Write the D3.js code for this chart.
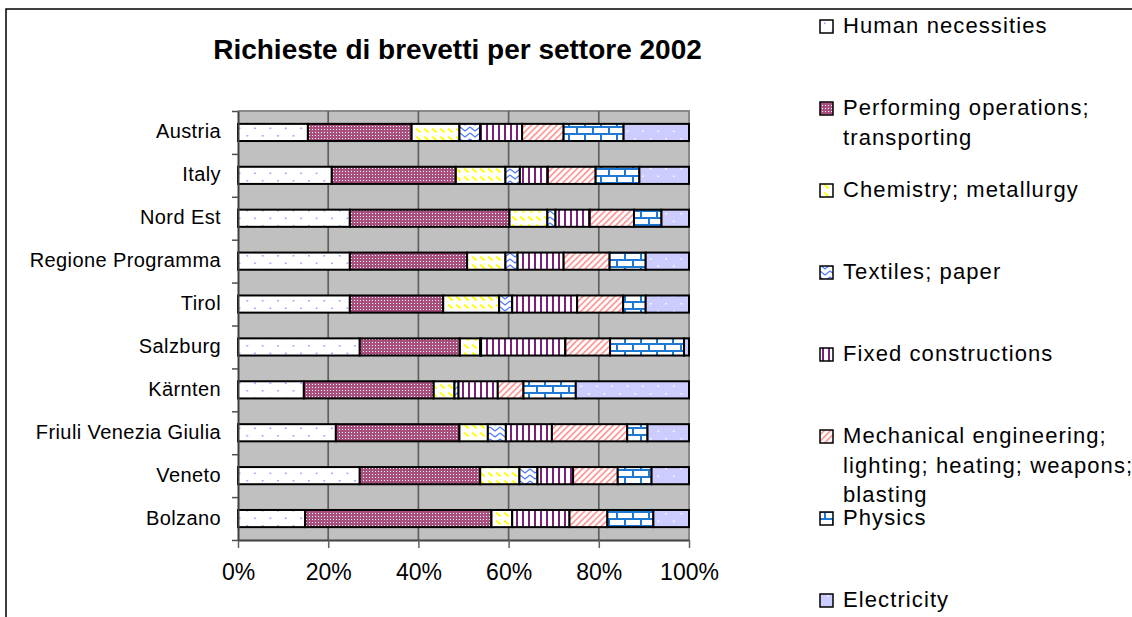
<!DOCTYPE html>
<html><head><meta charset="utf-8">
<script src="https://cdn.jsdelivr.net/npm/d3@7"></script>
<style>
html,body{margin:0;padding:0;background:#fff;overflow:hidden}
text{font-family:"Liberation Sans",Arial,sans-serif}
</style></head><body>
<svg id="c" width="1132" height="617"></svg>
<script>
const title = "Richieste di brevetti per settore 2002";
const categories = ["Austria","Italy","Nord Est","Regione Programma","Tirol","Salzburg","Kärnten","Friuli Venezia Giulia","Veneto","Bolzano"];
const seriesKeys = ["human","performing","chemistry","textiles","fixed","mechanical","physics","electricity"];
const legendLabels = [
  ["Human necessities"],
  ["Performing operations;","transporting"],
  ["Chemistry; metallurgy"],
  ["Textiles; paper"],
  ["Fixed constructions"],
  ["Mechanical engineering;","lighting; heating; weapons;","blasting"],
  ["Physics"],
  ["Electricity"]
];
const humanNecessities     = [15.5, 20.8, 24.8, 24.8, 24.8, 27.0, 14.6, 21.7, 27.0, 14.9];
const performingOperations = [23.0, 27.5, 35.4, 26.0, 20.7, 22.2, 28.8, 27.4, 26.7, 41.3];
const chemistryMetallurgy  = [10.6, 11.0,  8.4,  8.5, 12.4,  4.5,  4.6,  6.3,  8.7,  4.6];
const textilesPaper        = [ 4.6,  3.2,  1.8,  2.7,  2.9,  0.2,  0.9,  4.0,  4.0,  0.0];
const fixedConstructions   = [ 9.3,  6.2,  7.6, 10.2, 14.4, 18.7,  8.7, 10.2,  7.9, 12.7];
const mechanicalEngineering= [ 9.2, 10.6,  9.8, 10.2, 10.2,  9.9,  5.7, 16.7,  9.9,  8.4];
const physicsValues        = [13.3,  9.7,  6.1,  8.0,  5.0, 16.4, 11.6,  4.5,  7.5, 10.2];
const electricityValues    = [14.5, 11.0,  6.1,  9.6,  9.6,  1.1, 25.1,  9.2,  8.3,  7.9];
const xTickValues = [0, 0.2, 0.4, 0.6, 0.8, 1.0];

const seriesArrays = [humanNecessities, performingOperations, chemistryMetallurgy, textilesPaper,
  fixedConstructions, mechanicalEngineering, physicsValues, electricityValues];
const table = categories.map((c, i) => {
  const row = {category: c};
  seriesKeys.forEach((k, j) => row[k] = seriesArrays[j][i]);
  return row;
});

const svg = d3.select("#c");
const defs = svg.append("defs");

function pat(id, w, h, bg, draw, transform) {
  const p = defs.append("pattern").attr("id", id).attr("patternUnits", "userSpaceOnUse")
    .attr("width", w).attr("height", h);
  if (transform) p.attr("patternTransform", transform);
  p.append("rect").attr("width", w).attr("height", h).attr("fill", bg);
  draw(p);
}
// Human necessities: white with blue dots
pat("p0", 15.4, 15, "#fff", p => {
  p.append("rect").attr("x", 0).attr("y", 0).attr("width", 1.6).attr("height", 1.6).attr("fill", "#9999ff");
  p.append("rect").attr("x", 7.7).attr("y", 7.5).attr("width", 1.6).attr("height", 1.6).attr("fill", "#9999ff");
});
// Performing: plum with fine white dots
pat("p1", 3, 3, "#a84f7e", p => {
  p.append("rect").attr("width", 1).attr("height", 1).attr("fill", "#ffffff").attr("shape-rendering", "crispEdges");
});
// Chemistry: yellow "\" dashes
pat("p2", 8, 8, "#fff", p => {
  p.append("line").attr("x1", 0.5).attr("y1", 0.5).attr("x2", 4.5).attr("y2", 4.5)
    .attr("stroke", "#ffff00").attr("stroke-width", 1.8);
});
// Textiles: blue chevrons
pat("p3", 10, 6, "#fff", p => {
  p.append("path").attr("d", "M0,1 L5,5 L10,1").attr("fill", "none")
    .attr("stroke", "#4d79ff").attr("stroke-width", 1.3);
});
// Fixed: purple vertical stripes
pat("p4", 6, 6, "#fff", p => {
  p.append("rect").attr("x", 0).attr("width", 2).attr("height", 6).attr("fill", "#7a1f7a");
});
// Mechanical: pink diagonal "/"
pat("p5", 4.5, 4.5, "#fff", p => {
  p.append("rect").attr("x", 0).attr("width", 1.6).attr("height", 4.5).attr("fill", "#ff9090");
}, "rotate(45)");
// Physics: blue bricks
pat("p6", 16, 14, "#fff", p => {
  const c = "#1f78d1";
  p.append("rect").attr("x", 0).attr("y", 0).attr("width", 16).attr("height", 2).attr("fill", c);
  p.append("rect").attr("x", 0).attr("y", 7).attr("width", 16).attr("height", 2).attr("fill", c);
  p.append("rect").attr("x", 0).attr("y", 0).attr("width", 2).attr("height", 7).attr("fill", c);
  p.append("rect").attr("x", 8).attr("y", 7).attr("width", 2).attr("height", 7).attr("fill", c);
});
// Electricity: lavender with white dots
pat("p7", 15.4, 15, "#ccccff", p => {
  p.append("rect").attr("x", 3).attr("y", 3).attr("width", 1.6).attr("height", 1.6).attr("fill", "#fff");
  p.append("rect").attr("x", 10.7).attr("y", 10.5).attr("width", 1.6).attr("height", 1.6).attr("fill", "#fff");
});

// chart frame (extends beyond the page)
svg.append("rect").attr("x", 6).attr("y", 9).attr("width", 3000).attr("height", 3000)
  .attr("fill", "none").attr("stroke", "#000").attr("stroke-width", 1.5);

const plotLeft = 238, plotRight = 689, plotTop = 111, plotBottom = 540;
const x = d3.scaleLinear().domain([0, 1]).range([plotLeft, plotRight]);
const y = d3.scaleBand().domain(categories).range([plotTop, plotBottom]).paddingInner(0.6).paddingOuter(0.3);

// plot area
svg.append("rect").attr("x", plotLeft).attr("y", plotTop).attr("width", plotRight - plotLeft).attr("height", plotBottom - plotTop)
  .attr("fill", "#c0c0c0");
svg.append("path").attr("d", `M${plotLeft},${plotTop}H${plotRight}V${plotBottom}`).attr("fill", "none")
  .attr("stroke", "#8a8a8a").attr("stroke-width", 2);

// gridlines
svg.append("g").selectAll("line").data(xTickValues.slice(1, -1)).join("line")
  .attr("x1", d => x(d)).attr("x2", d => x(d)).attr("y1", plotTop).attr("y2", plotBottom)
  .attr("stroke", "#606060").attr("stroke-width", 1.7);

// bars
const stacked = d3.stack().keys(seriesKeys).offset(d3.stackOffsetExpand)(table);
svg.append("g").selectAll("g").data(stacked).join("g")
  .attr("fill", (d, i) => `url(#p${i})`)
  .selectAll("rect").data(d => d).join("rect")
  .attr("x", d => x(d[0])).attr("width", d => x(d[1]) - x(d[0]))
  .attr("y", d => y(d.data.category)).attr("height", y.bandwidth())
  .attr("stroke", "#000").attr("stroke-width", 2);

// x axis
const xAxis = svg.append("g").attr("transform", `translate(0,${plotBottom})`)
  .call(d3.axisBottom(x).tickValues(xTickValues).tickFormat(d3.format(".0%")).tickSize(8).tickSizeOuter(0).tickPadding(16));
xAxis.select(".domain").attr("stroke", "#404040").attr("stroke-width", 2);
xAxis.selectAll(".tick line").attr("stroke", "#606060").attr("stroke-width", 1.5);
xAxis.selectAll(".tick text").attr("font-size", 23).attr("fill", "#000")
  .attr("font-family", '"Liberation Sans",Arial,sans-serif');

// y axis: boundary ticks
const yb = d3.scaleLinear().domain([0, categories.length]).range([plotTop, plotBottom]);
const yAxis = svg.append("g").attr("transform", `translate(${plotLeft},0)`)
  .call(d3.axisLeft(yb).ticks(categories.length).tickFormat("").tickSize(6).tickSizeOuter(0));
yAxis.select(".domain").attr("stroke", "#404040").attr("stroke-width", 2);
yAxis.selectAll(".tick line").attr("stroke", "#505050").attr("stroke-width", 1.5);

// category labels
const yl = svg.append("g").attr("transform", `translate(${plotLeft},0)`)
  .call(d3.axisLeft(y).tickSize(0).tickPadding(17));
yl.select(".domain").remove();
yl.selectAll(".tick text").attr("font-size", 20).attr("fill", "#000").attr("letter-spacing", 0.4)
  .attr("dy", "0.3em").attr("font-family", '"Liberation Sans",Arial,sans-serif');

// title
svg.append("text").attr("x", 457.5).attr("y", 59).attr("text-anchor", "middle")
  .attr("font-size", 28).attr("font-weight", "bold").text(title);

// legend
const lg = svg.append("g");
legendLabels.forEach((lines, i) => {
  const by = 33 + i * 82;
  lg.append("rect").attr("x", 820).attr("y", by - 13).attr("width", 13).attr("height", 13)
    .attr("fill", `url(#p${i})`).attr("stroke", "#000").attr("stroke-width", 1.5);
  const t = lg.append("text").attr("x", 843).attr("y", by).attr("font-size", 22).attr("letter-spacing", 1.1);
  lines.forEach((ln, k) => t.append("tspan").attr("x", 843).attr("y", by + k * 29.5).text(ln));
});
</script></body></html>
